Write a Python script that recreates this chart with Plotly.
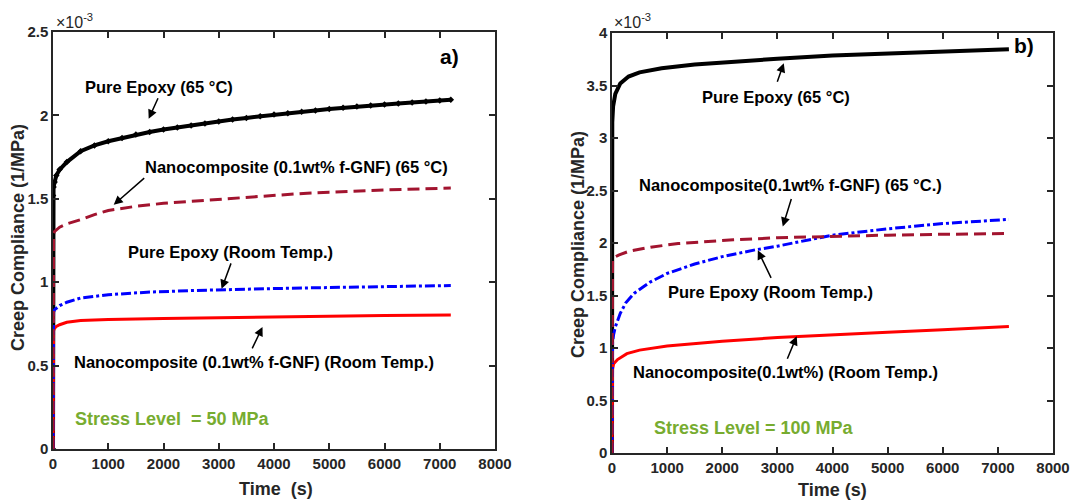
import plotly.graph_objects as go

# ---------------- data ----------------
# Panel a) Stress level 50 MPa, compliance in 1e-3 1/MPa
a_pe65_t = [0, 1, 10, 30, 60, 120, 250, 500, 750, 1000, 1250, 1500, 1750, 2000, 2250, 2500,
            2750, 3000, 3250, 3500, 3750, 4000, 4250, 4500, 4750, 5000, 5250, 5500, 5750,
            6000, 6250, 6500, 6750, 7000, 7200]
a_pe65_v = [0, 1.52, 1.57, 1.60, 1.64, 1.675, 1.72, 1.785, 1.82, 1.845, 1.865, 1.885, 1.90,
            1.915, 1.928, 1.94, 1.952, 1.963, 1.975, 1.985, 1.995, 2.005, 2.013, 2.022, 2.03,
            2.038, 2.046, 2.054, 2.06, 2.066, 2.072, 2.078, 2.084, 2.09, 2.094]
a_nc65_t = [0, 1, 10, 30, 60, 120, 250, 500, 750, 1000, 1500, 2000, 2500, 3000, 4000, 4600, 5000, 6000, 7200]
a_nc65_v = [0, 1.26, 1.29, 1.305, 1.315, 1.33, 1.35, 1.375, 1.405, 1.43, 1.455, 1.473, 1.485,
            1.497, 1.52, 1.534, 1.54, 1.553, 1.564]
a_pert_t = [0, 1, 10, 30, 60, 120, 250, 500, 1000, 1700, 2500, 3000, 4000, 5000, 6000, 7200]
a_pert_v = [0, 0.80, 0.82, 0.835, 0.845, 0.86, 0.88, 0.905, 0.925, 0.94, 0.95, 0.955, 0.962,
            0.968, 0.975, 0.98]
a_ncrt_t = [0, 1, 10, 30, 60, 120, 250, 500, 1000, 2000, 3000, 4000, 5000, 6000, 7200]
a_ncrt_v = [0, 0.68, 0.71, 0.725, 0.735, 0.745, 0.76, 0.77, 0.776, 0.783, 0.788, 0.792, 0.796, 0.80, 0.804]

# Panel b) Stress level 100 MPa
b_pe65_t = [0, 1, 5, 20, 60, 150, 300, 500, 900, 1500, 2000, 3000, 4000, 5000, 6000, 7200]
b_pe65_v = [0, 2.9, 3.15, 3.3, 3.42, 3.52, 3.585, 3.625, 3.665, 3.70, 3.72, 3.755, 3.785,
            3.805, 3.825, 3.845]
b_nc65_t = [0, 1, 10, 30, 120, 300, 700, 1200, 2200, 3000, 4000, 5000, 6000, 7200]
b_nc65_v = [0, 1.75, 1.83, 1.86, 1.885, 1.92, 1.96, 1.995, 2.03, 2.05, 2.064, 2.075, 2.083, 2.09]
b_pert_t = [0, 1, 10, 30, 60, 150, 250, 400, 700, 1000, 1500, 2000, 2600, 3000, 4000, 5000, 6000, 7200]
b_pert_v = [0, 0.9, 1.05, 1.13, 1.20, 1.33, 1.43, 1.52, 1.63, 1.71, 1.80, 1.87, 1.935, 1.97,
            2.075, 2.135, 2.185, 2.225]
b_ncrt_t = [0, 1, 10, 30, 100, 270, 500, 1000, 1500, 2000, 3000, 4000, 5000, 6000, 7200]
b_ncrt_v = [0, 0.7, 0.8, 0.85, 0.89, 0.946, 0.98, 1.02, 1.042, 1.065, 1.10, 1.128, 1.15, 1.175, 1.205]

x_ticks = [0, 1000, 2000, 3000, 4000, 5000, 6000, 7000, 8000]
x_tick_labels = ["0", "1000", "2000", "3000", "4000", "5000", "6000", "7000", "8000"]
a_y_ticks = [0, 0.5, 1, 1.5, 2, 2.5]
a_y_labels = ["0", "0.5", "1", "1.5", "2", "2.5"]
b_y_ticks = [0, 0.5, 1, 1.5, 2, 2.5, 3, 3.5, 4]
b_y_labels = ["0", "0.5", "1", "1.5", "2", "2.5", "3", "3.5", "4"]

BLACK = "#000000"
DARKRED = "#A2142F"
BLUE = "#0000FF"
RED = "#FF0000"
GREEN = "#77AC30"
AXC = "#262626"
FONT = "Liberation Sans"

fig = go.Figure()

def add_panel(xa, ya, pe65, nc65, pert, ncrt, markers):
    fig.add_trace(go.Scatter(x=pe65[0], y=pe65[1], xaxis=xa, yaxis=ya,
                             mode="lines+markers" if markers else "lines",
                             line=dict(color=BLACK, width=4),
                             marker=dict(symbol="diamond", size=5, color=BLACK),
                             showlegend=False))
    fig.add_trace(go.Scatter(x=ncrt[0], y=ncrt[1], xaxis=xa, yaxis=ya, mode="lines",
                             line=dict(color=RED, width=3), showlegend=False))
    fig.add_trace(go.Scatter(x=pert[0], y=pert[1], xaxis=xa, yaxis=ya, mode="lines",
                             line=dict(color=BLUE, width=3, dash="10px,3px,3px,3px"),
                             showlegend=False))
    fig.add_trace(go.Scatter(x=nc65[0], y=nc65[1], xaxis=xa, yaxis=ya, mode="lines",
                             line=dict(color=DARKRED, width=3, dash="12px,6px"),
                             showlegend=False))

add_panel("x", "y", (a_pe65_t, a_pe65_v), (a_nc65_t, a_nc65_v),
          (a_pert_t, a_pert_v), (a_ncrt_t, a_ncrt_v), True)
add_panel("x2", "y2", (b_pe65_t, b_pe65_v), (b_nc65_t, b_nc65_v),
          (b_pert_t, b_pert_v), (b_ncrt_t, b_ncrt_v), False)

W, H = 1077, 501
def px(x):
    return x / W
def py(y):
    return 1 - y / H

axis_common = dict(showline=True, linecolor=AXC, linewidth=1.5, mirror="ticks",
                   ticks="inside", ticklen=6, tickwidth=1.5, tickcolor=AXC,
                   showgrid=False, zeroline=False, automargin=False,
                   tickfont=dict(family=FONT, size=15, color=AXC, weight="bold"))

fig.update_layout(
    width=W, height=H,
    margin=dict(l=0, r=0, t=0, b=0),
    paper_bgcolor="white", plot_bgcolor="white",
    xaxis=dict(domain=[px(53), px(495)], range=[0, 8000], anchor="y",
               tickvals=x_ticks, ticktext=x_tick_labels, **axis_common),
    yaxis=dict(domain=[py(449), py(32)], range=[0, 2.5], anchor="x",
               tickvals=a_y_ticks, ticktext=a_y_labels, **axis_common),
    xaxis2=dict(domain=[px(612), px(1053)], range=[0, 8000], anchor="y2",
                tickvals=x_ticks, ticktext=x_tick_labels, **axis_common),
    yaxis2=dict(domain=[py(453), py(33)], range=[0, 4], anchor="x2",
                tickvals=b_y_ticks, ticktext=b_y_labels, **axis_common),
)

def txt(xr, yr, x, y, s, size=16.5, color=BLACK, xanchor="center"):
    fig.add_annotation(xref=xr, yref=yr, x=x, y=y, text=s, showarrow=False,
                       xanchor=xanchor, yanchor="middle",
                       font=dict(family=FONT, size=size, color=color, weight="bold"))

def arrow(xr, yr, x, y, ax, ay):
    fig.add_annotation(xref=xr, yref=yr, x=x, y=y, ax=ax, ay=ay, text="",
                       showarrow=True, arrowhead=2, arrowsize=1.2, arrowwidth=1.5,
                       arrowcolor=BLACK)

# Panel a labels
txt("x", "y", 1913, 2.172, "Pure Epoxy (65 °C)")
arrow("x", "y", 1732, 1.98, 10, -22)
txt("x", "y", 4416, 1.692, "Nanocomposite (0.1wt% f-GNF) (65 °C)")
arrow("x", "y", 1099, 1.464, 32, -28)
txt("x", "y", 3204, 1.182, "Pure Epoxy (Room Temp.)")
arrow("x", "y", 3051, 0.96, 10, -27)
txt("x", "y", 338, 0.522, "Nanocomposite (0.1wt% f-GNF) (Room Temp.)", xanchor="left")
arrow("x", "y", 3792, 0.732, -11, 23)
txt("x", "y", 2165, 0.18, "Stress Level \u00a0= 50 MPa", size=18, color=GREEN)
txt("x", "y", 7174, 2.352, "a)", size=21)

# Panel b labels
txt("x2", "y2", 2972, 3.388, "Pure Epoxy (65 °C)")
arrow("x2", "y2", 3116, 3.711, -7, 20)
txt("x2", "y2", 3243, 2.548, "Nanocomposite(0.1wt% f-GNF) (65 °C.)")
arrow("x2", "y2", 3098, 2.158, 9, -29)
txt("x2", "y2", 2872, 1.530, "Pure Epoxy (Room Temp.)")
arrow("x2", "y2", 2645, 1.93, 14, 29)
txt("x2", "y2", 349, 0.769, "Nanocomposite(0.1wt%) (Room Temp.)", xanchor="left")
arrow("x2", "y2", 3351, 1.112, -10, 24)
txt("x2", "y2", 2573, 0.235, "Stress Level = 100 MPa", size=18, color=GREEN)
txt("x2", "y2", 7474, 3.883, "b)", size=21)

# exponent labels
for xx, yy in [(54, 21), (612, 21)]:
    fig.add_annotation(xref="paper", yref="paper", x=px(xx), y=py(yy), showarrow=False,
                       xanchor="left", yanchor="middle", text="×10<sup>-3</sup>",
                       font=dict(family=FONT, size=16, color=AXC))

# axis titles
for xx, yy in [(18, 238), (578, 245)]:
    fig.add_annotation(xref="paper", yref="paper", x=px(xx), y=py(yy), showarrow=False,
                       xanchor="center", yanchor="middle",
                       textangle=-90, text="Creep Compliance (1/MPa)",
                       font=dict(family=FONT, size=18, color=AXC, weight="bold"))
fig.add_annotation(xref="paper", yref="paper", x=px(276), y=py(489), showarrow=False,
                   xanchor="center", yanchor="middle",
                   text="Time \u00a0(s)", font=dict(family=FONT, size=18, color=AXC, weight="bold"))
fig.add_annotation(xref="paper", yref="paper", x=px(832), y=py(490), showarrow=False,
                   xanchor="center", yanchor="middle",
                   text="Time (s)", font=dict(family=FONT, size=18, color=AXC, weight="bold"))

fig.write_html("out.html", config={"displayModeBar": False},
               post_script="document.body.style.margin='0';document.body.style.overflow='hidden';")
